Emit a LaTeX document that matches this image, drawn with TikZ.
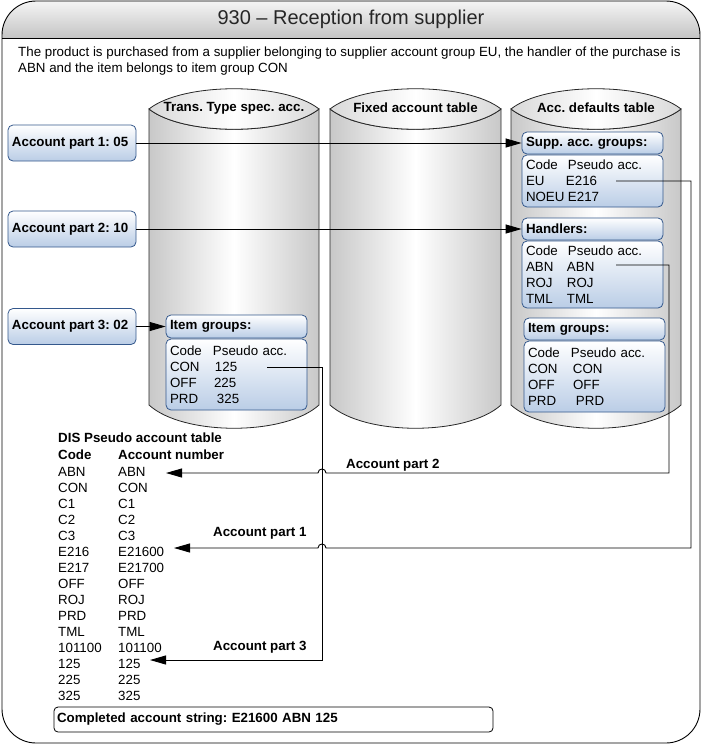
\documentclass[tikz,border=0pt]{standalone}
\usepackage{fontspec}
\setmainfont{Liberation Sans}
\usetikzlibrary{arrows.meta}
\definecolor{boxblue}{RGB}{52,88,140}
\definecolor{boxfill}{RGB}{186,205,230}
\definecolor{cylgray}{RGB}{200,200,200}
\definecolor{headgray}{RGB}{196,196,196}
\newcommand\bodyfont{\fontsize{13.33}{16}\selectfont}
\newcommand\mycyl[2]{%
  \pgfmathsetmacro\cw{#2-#1}%
  \pgfmathsetmacro\ca{#1+0.2*\cw}%
  \pgfmathsetmacro\cb{#2-0.2*\cw}%
  \shadedraw[left color=cylgray, right color=cylgray, middle color=white, draw=black!85, line width=0.8pt]
    (#1,109) -- (#1,405) .. controls (\ca,436) and (\cb,436) .. (#2,405) -- (#2,109)
    .. controls (\cb,136) and (\ca,136) .. cycle;
  \shadedraw[left color=black!15, right color=black!15, middle color=white, draw=black!85, line width=0.8pt]
    (#1,109) .. controls (\ca,82) and (\cb,82) .. (#2,109)
    .. controls (\cb,136) and (\ca,136) .. cycle;
}
\begin{document}
\frenchspacing
\begin{tikzpicture}[x=1pt,y=-1pt,
  bluebox/.style={draw=boxblue, line width=0.8pt, rounded corners=5pt, top color=white, bottom color=boxfill,
     inner xsep=4pt, inner ysep=0pt, align=left, font=\bodyfont},
  titlebox/.style={bluebox, font=\bfseries\bodyfont, minimum width=141pt, text width=133pt},
  tablebox/.style={bluebox, minimum width=141pt, text width=133pt},
  apbox/.style={bluebox, font=\bfseries\bodyfont, minimum width=128pt, minimum height=36pt},
  conn/.style={draw=black, line width=0.9pt},
  arr/.style={conn, -{Triangle[length=16pt,width=9pt]}},
  lbl/.style={font=\bfseries\bodyfont, inner sep=0pt, anchor=west},
  txt/.style={font=\bodyfont, inner sep=0pt, anchor=base west}]
\useasboundingbox (0,0) rectangle (703,745);
% frame and header
\begin{scope}
  \clip[rounded corners=34pt] (2,1) rectangle (700,743);
  \shade[top color=black!4, bottom color=headgray] (2,1) rectangle (700,38);
\end{scope}
\draw[line width=0.9pt, rounded corners=34pt] (2,1) rectangle (700,743);
\draw[line width=0.9pt] (2,38) -- (700,38);
\node[font=\fontsize{20}{24}\selectfont, text=black!85] (title) at (351,19) {930 – Reception from supplier};
\node[font=\fontsize{13.33}{15.5}\selectfont, align=left, anchor=north west, inner sep=0pt] (desc) at (18,47)
  {The product is purchased from a supplier belonging to supplier account group EU, the handler of the purchase is\\ABN and the item belongs to item group CON};
% cylinders
\mycyl{149}{319}
\mycyl{330}{501}
\mycyl{511}{681}
\node[font=\bfseries\bodyfont] (cylA) at (234,108) {Trans. Type spec. acc.};
\node[font=\bfseries\bodyfont] (cylB) at (415.5,108) {Fixed account table};
\node[font=\bfseries\bodyfont] (cylC) at (596,108) {Acc. defaults table};
% boxes in acc. defaults table
\node[titlebox, minimum height=22pt] (supp) at (592.5,143) {Supp. acc. groups:};
\node[tablebox, minimum height=52pt] (supptab) at (592.5,181)
  {\makebox[42pt][l]{Code}Pseudo acc.\\\makebox[40pt][l]{EU}E216\\\makebox[42pt][l]{NOEU}E217};
\node[titlebox, minimum height=22pt] (hand) at (592.5,229) {Handlers:};
\node[tablebox, minimum height=67pt] (handtab) at (592.5,274.5)
  {\makebox[42pt][l]{Code}Pseudo acc.\\\makebox[41pt][l]{ABN}ABN\\\makebox[41pt][l]{ROJ}ROJ\\\makebox[41pt][l]{TML}TML};
\node[titlebox, minimum height=22pt] (itemC) at (594.5,329) {Item groups:};
\node[tablebox, minimum height=71pt] (itemCtab) at (594.5,376.5)
  {\makebox[43pt][l]{Code}Pseudo acc.\\\makebox[45pt][l]{CON}CON\\\makebox[45pt][l]{OFF}OFF\\\makebox[48pt][l]{PRD}PRD};
% boxes in trans. type spec. acc.
\node[titlebox, minimum height=23pt] (itemA) at (236.5,326.5) {Item groups:};
\node[tablebox, minimum height=71pt] (itemAtab) at (236.5,374.5)
  {\makebox[43pt][l]{Code}Pseudo acc.\\\makebox[45pt][l]{CON}125\\\makebox[44pt][l]{OFF}225\\\makebox[47pt][l]{PRD}325};
% account part boxes
\node[apbox] (ap1) at (72,143) {\makebox[120pt][l]{Account part 1: 05}};
\node[apbox] (ap2) at (72,229) {\makebox[120pt][l]{Account part 2: 10}};
\node[apbox] (ap3) at (72,326.5) {\makebox[120pt][l]{Account part 3: 02}};
\draw[arr] (ap1.east) -- (supp.west);
\draw[arr] (ap2.east) -- (hand.west);
\draw[arr] (ap3.east) -- (itemA.west);
% DIS pseudo account table
\node[txt, font=\bfseries\bodyfont] (distitle) at (58,442) {DIS Pseudo account table};
\node[txt, font=\bfseries\bodyfont] (dhc) at (58,459) {Code};
\node[txt, font=\bfseries\bodyfont] (dhn) at (118,459) {Account number};
\foreach \a/\b [count=\i] in {ABN/ABN,CON/CON,C1/C1,C2/C2,C3/C3,E216/E21600,E217/E21700,OFF/OFF,ROJ/ROJ,PRD/PRD,TML/TML,101100/101100,125/125,225/225,325/325}{
  \node[txt] (dc\i) at (58,{476+16*(\i-1)}) {\a};
  \node[txt] (dn\i) at (118,{476+16*(\i-1)}) {\b};
}
% connectors
\coordinate (s1) at (616,181);
\coordinate (k1) at (691,181);
\coordinate (k1b) at (691,548);
\coordinate (h1a) at (326,548);
\coordinate (h1b) at (318,548);
\coordinate (t1) at (174,548);
\draw[arr] (s1) -- (k1) -- (k1b) -- (h1a) .. controls (326,542.7) and (318,542.7) .. (h1b) -- (t1);
\coordinate (s2) at (616,265);
\coordinate (k2) at (669,265);
\coordinate (k2b) at (669,473);
\coordinate (h2a) at (326,473);
\coordinate (h2b) at (318,473);
\coordinate (t2) at (166,473);
\draw[arr] (s2) -- (k2) -- (k2b) -- (h2a) .. controls (326,467.7) and (318,467.7) .. (h2b) -- (t2);
\coordinate (s3) at (267,367);
\coordinate (k3) at (322,367);
\coordinate (k3b) at (322,660);
\coordinate (t3) at (150,660);
\draw[arr] (s3) -- (k3) -- (k3b) -- (t3);
\node[lbl] (lab2) at (346,465) {Account part 2};
\node[lbl] (lab1) at (213,533) {Account part 1};
\node[lbl] (lab3) at (213,647) {Account part 3};
% completed string
\node[draw, line width=0.8pt, rounded corners=4pt, fill=white, minimum width=439pt, minimum height=25pt,
  text width=433pt, inner xsep=3pt, align=left, font=\bfseries\bodyfont] (done) at (273.5,719.5)
  {Completed account string: E21600 ABN 125};
\end{tikzpicture}
\end{document}
